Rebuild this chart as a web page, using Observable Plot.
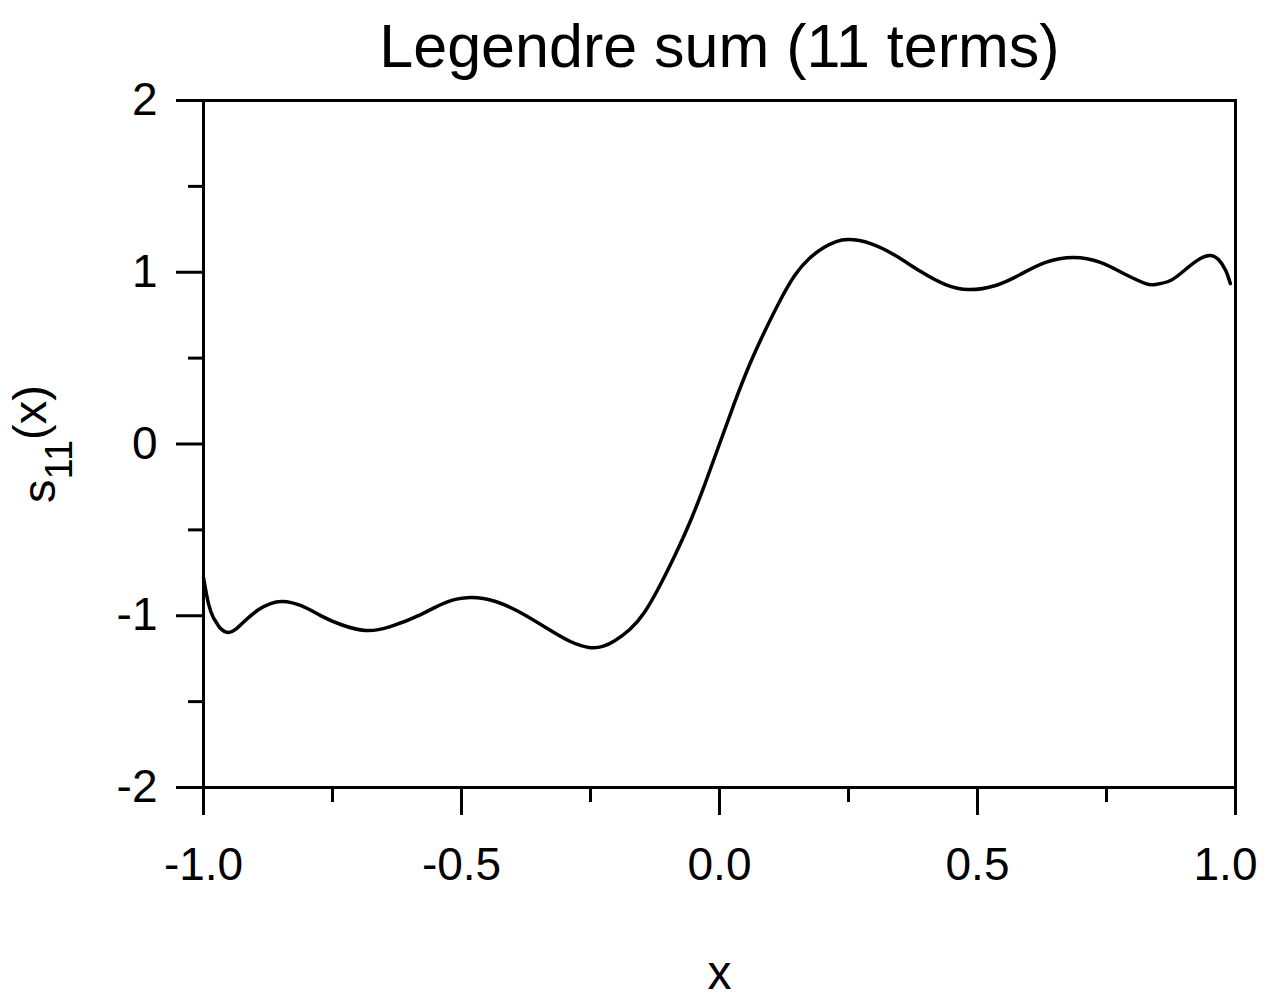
<!DOCTYPE html>
<html>
<head>
<meta charset="utf-8">
<script src="https://cdn.jsdelivr.net/npm/d3@7"></script>
<script src="https://cdn.jsdelivr.net/npm/@observablehq/plot@0.6"></script>
<style>
  html, body { margin: 0; padding: 0; background: #fff; }
  svg { display: block; }
</style>
</head>
<body>
<div id="chart"></div>
<script>
// Data
const xValues = [-1.0, -0.99, -0.981, -0.977, -0.967, -0.952, -0.938, -0.919, -0.893, -0.870, -0.847, -0.812, -0.773, -0.734, -0.686, -0.638, -0.579, -0.531, -0.483, -0.434, -0.386, -0.337, -0.289, -0.250, -0.225, -0.203, -0.174, -0.145, -0.116, -0.087, -0.058, -0.029, 0.0, 0.029, 0.058, 0.087, 0.116, 0.145, 0.174, 0.203, 0.225, 0.250, 0.293, 0.341, 0.390, 0.438, 0.483, 0.535, 0.583, 0.632, 0.686, 0.738, 0.787, 0.826, 0.845, 0.874, 0.903, 0.932, 0.952, 0.967, 0.981, 0.990];
const yValues = [-0.777, -0.934, -1.010, -1.030, -1.074, -1.097, -1.080, -1.028, -0.964, -0.929, -0.917, -0.940, -0.999, -1.051, -1.086, -1.063, -0.993, -0.923, -0.894, -0.917, -0.981, -1.068, -1.150, -1.186, -1.177, -1.145, -1.080, -0.978, -0.827, -0.652, -0.460, -0.239, 0.0, 0.239, 0.460, 0.652, 0.827, 0.978, 1.080, 1.145, 1.177, 1.190, 1.167, 1.097, 1.004, 0.928, 0.899, 0.923, 0.987, 1.057, 1.086, 1.057, 0.987, 0.934, 0.929, 0.952, 1.016, 1.080, 1.097, 1.074, 1.010, 0.934];

const xMajorTicks = [-1, -0.5, 0, 0.5, 1];
const xMinorTicks = [-0.75, -0.25, 0.25, 0.75];
const yMajorTicks = [-2, -1, 0, 1, 2];
const yMinorTicks = [-1.5, -0.5, 0.5, 1.5];

const titleText = "Legendre sum (11 terms)";
const xLabelText = "x";
const yLabelText = "s11(x)";

const points = xValues.map((x, i) => ({x, y: yValues[i]}));

const font = "'Liberation Sans', Arial, Helvetica, sans-serif";

const chart = Plot.plot({
  width: 1265,
  height: 997,
  marginLeft: 203,
  marginRight: 30,
  marginTop: 100,
  marginBottom: 210,
  style: {fontFamily: font, fontSize: "46px", background: "white", color: "black"},
  x: {domain: [-1, 1]},
  y: {domain: [-2, 2]},
  marks: [
    Plot.axisX({ticks: xMajorTicks, tickSize: 28, tickPadding: 32, tickFormat: d => d.toFixed(1), label: null, strokeWidth: 3, strokeOpacity: 1, fontSize: 46}),
    Plot.axisX({ticks: xMinorTicks, tickSize: 15, tickFormat: () => "", label: null, strokeWidth: 3, strokeOpacity: 1}),
    Plot.axisY({ticks: yMajorTicks, tickSize: 27, tickPadding: 19, tickFormat: d => String(d), label: null, strokeWidth: 3, strokeOpacity: 1, fontSize: 46}),
    Plot.axisY({ticks: yMinorTicks, tickSize: 15, tickFormat: () => "", label: null, strokeWidth: 3, strokeOpacity: 1}),
    Plot.frame({stroke: "black", strokeWidth: 3}),
    Plot.line(points, {x: "x", y: "y", stroke: "black", strokeWidth: 3.5, curve: "natural"}),
    Plot.text([titleText], {frameAnchor: "top", dy: -77, text: d => d, fontSize: 61, fill: "black"}),
    Plot.text([xLabelText], {frameAnchor: "bottom", dy: 201, text: d => d, fontSize: 48, fill: "black"}),
    Plot.text([yLabelText], {frameAnchor: "left", textAnchor: "middle", dx: -164, rotate: -90, text: d => d, fontSize: 47, fill: "black"})
  ]
});

const svgSel = d3.select(chart);
// Render the subscript of the y label
svgSel.selectAll("text").each(function() {
  if (this.textContent === yLabelText) {
    const t = d3.select(this);
    t.text(null);
    t.append("tspan").text("s");
    t.append("tspan").attr("font-size", "38px").attr("dy", "0.45em").text("11");
    t.append("tspan").attr("dy", "-0.55em").text("(x)");
  }
});
// Keep the last x tick label inside the picture, as in the reference
svgSel.selectAll("text").each(function() {
  if (this.textContent === "1.0") d3.select(this).attr("dx", -10);
});

document.getElementById("chart").appendChild(chart);
</script>
</body>
</html>
